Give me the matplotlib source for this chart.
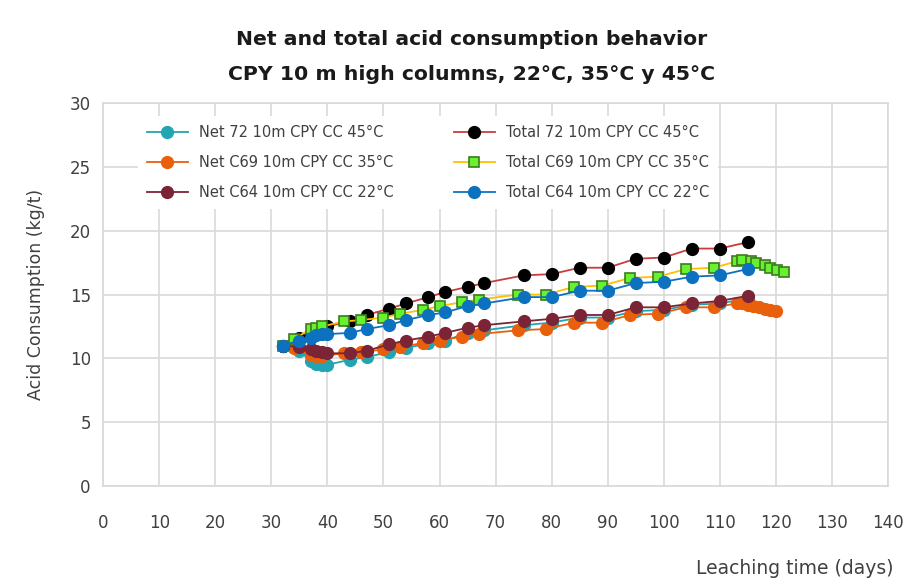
import matplotlib.pyplot as plt

# dias de lixiviacion y consumo (kg/t)
dias_72 = [32, 35, 37, 38, 39, 40, 44, 47, 51, 54, 58, 61, 65, 68, 75, 80, 85, 90, 95, 100, 105, 110, 115]
neto_72 = [11.0, 10.6, 9.8, 9.6, 9.5, 9.5, 9.9, 10.1, 10.5, 10.8, 11.2, 11.4, 12.0, 12.2, 12.6, 12.8, 13.2, 13.2, 13.7, 13.8, 14.2, 14.3, 14.7]
total_72 = [11.0, 11.6, 12.0, 12.2, 12.4, 12.5, 12.9, 13.4, 13.9, 14.3, 14.8, 15.2, 15.6, 15.9, 16.5, 16.6, 17.1, 17.1, 17.8, 17.9, 18.6, 18.6, 19.1]

dias_c69 = [32, 34, 37, 38, 39, 43, 46, 50, 53, 57, 60, 64, 67, 74, 79, 84, 89, 94, 99, 104, 109, 113, 114, 115, 116, 117, 118, 119, 120]
neto_c69 = [11.0, 10.8, 10.3, 10.2, 10.2, 10.4, 10.5, 10.7, 10.9, 11.2, 11.4, 11.7, 11.9, 12.2, 12.3, 12.8, 12.8, 13.4, 13.5, 14.0, 14.0, 14.3, 14.3, 14.2, 14.1, 14.0, 13.9, 13.8, 13.7]
dias_c69_total = [32, 34, 37, 38, 39, 43, 46, 50, 53, 57, 60, 64, 67, 74, 79, 84, 89, 94, 99, 104, 109, 113, 114, 115.5, 116.5, 118, 119, 120.3, 121.5]
total_c69 = [11.0, 11.5, 12.3, 12.4, 12.5, 12.9, 13.0, 13.2, 13.5, 13.8, 14.1, 14.4, 14.6, 15.0, 15.0, 15.6, 15.7, 16.3, 16.4, 17.0, 17.1, 17.6, 17.7, 17.6, 17.5, 17.3, 17.1, 16.9, 16.8]

dias_c64 = [32, 35, 37, 38, 39, 40, 44, 47, 51, 54, 58, 61, 65, 68, 75, 80, 85, 90, 95, 100, 105, 110, 115]
neto_c64 = [11.0, 10.9, 10.7, 10.6, 10.5, 10.4, 10.4, 10.6, 11.1, 11.4, 11.7, 12.0, 12.4, 12.6, 12.9, 13.1, 13.4, 13.4, 14.0, 14.0, 14.3, 14.5, 14.9]
total_c64 = [11.0, 11.4, 11.6, 11.8, 11.9, 11.9, 12.0, 12.3, 12.6, 13.0, 13.4, 13.6, 14.1, 14.3, 14.8, 14.8, 15.3, 15.3, 15.9, 16.0, 16.4, 16.5, 17.0]

fig = plt.figure(figsize=(9.22, 5.85), dpi=100)
ax = fig.add_axes([0.112, 0.169, 0.851, 0.655])

ms = 8.5
lw = 1.3
ax.plot(dias_72, neto_72, "-o", color="#22A5B3", lw=lw, ms=ms, label="Net 72 10m CPY CC 45°C")
ax.plot(dias_c69, neto_c69, "-o", color="#E8600C", lw=lw, ms=ms, label="Net C69 10m CPY CC 35°C")
ax.plot(dias_c64, neto_c64, "-o", color="#7B2436", lw=lw, ms=ms, label="Net C64 10m CPY CC 22°C")
ax.plot(dias_72, total_72, "-o", color="#CC3B3B", mfc="black", mec="black", lw=lw, ms=ms,
        label="Total 72 10m CPY CC 45°C")
ax.plot(dias_c69_total, total_c69, "-s", color="#FFC000", mfc="#66F22E", mec="#3E7A1E", mew=1.2,
        lw=lw, ms=7.5, label="Total C69 10m CPY CC 35°C")
ax.plot(dias_c64, total_c64, "-o", color="#0C72C0", lw=lw, ms=ms, label="Total C64 10m CPY CC 22°C")

ax.set_xlim(0, 140)
ax.set_ylim(0, 30)
ax.set_xticks(range(0, 141, 10))
ax.set_yticks(range(0, 31, 5))
ax.tick_params(length=0, labelsize=12, colors="#404040")
ax.tick_params(axis="x", pad=20)
ax.tick_params(axis="y", pad=9)
ax.grid(color="#D9D9D9", lw=1.2)
ax.set_axisbelow(True)
for s in ax.spines.values():
    s.set_color("#D9D9D9")
    s.set_linewidth(1.2)

ax.set_ylabel("Acid Consumption (kg/t)", fontsize=12.5, color="#404040", labelpad=18)
fig.text(0.969, 0.012, "Leaching time (days)", ha="right", va="bottom", fontsize=13.5, color="#404040")
fig.text(0.511, 0.932, "Net and total acid consumption behavior", ha="center", va="center",
         fontsize=14.7, fontweight="bold", color="#1A1A1A")
fig.text(0.511, 0.872, "CPY 10 m high columns, 22°C, 35°C y 45°C", ha="center", va="center",
         fontsize=14.7, fontweight="bold", color="#1A1A1A")

leg = ax.legend(ncol=2, loc="upper left", bbox_to_anchor=(0.035, 0.985), frameon=True,
                fontsize=10.5, handlelength=2.8, columnspacing=4.1, labelspacing=1.05,
                borderpad=0.6, labelcolor="#404040")
leg.get_frame().set_facecolor("white")
leg.get_frame().set_edgecolor("none")
leg.get_frame().set_alpha(1)

fig.savefig("out.png", dpi=100)
